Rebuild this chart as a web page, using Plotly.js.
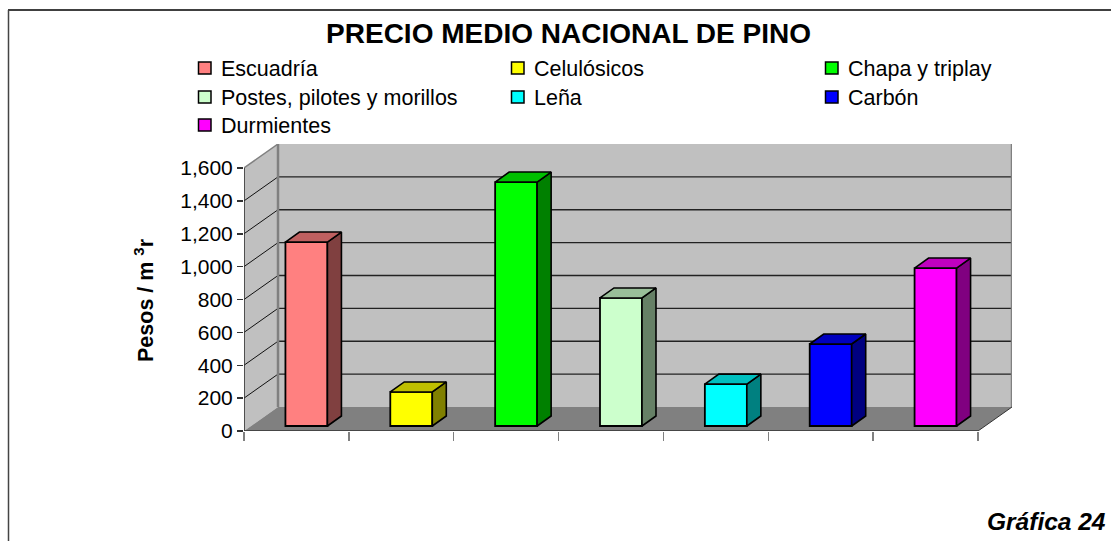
<!DOCTYPE html>
<html>
<head>
<meta charset="utf-8">
<script src="https://cdn.plot.ly/plotly-3.0.1.min.js"></script>
<style>html,body{margin:0;padding:0;background:#fff}#c{width:1111px;height:541px}</style>
</head>
<body>
<div id="c"></div>
<script>
const categories = ["Escuadría","Celulósicos","Chapa y triplay","Postes, pilotes y morillos","Leña","Carbón","Durmientes"];
const values = [1119,207,1484,779,255,499,961];
const frontColors = ["#FF8080","#FFFF00","#00FF00","#CCFFCC","#00FFFF","#0000FF","#FF00FF"];
const topColors   = ["#BF6060","#BFBF00","#00BF00","#99BF99","#00BFBF","#0000BF","#BF00BF"];
const sideColors  = ["#804040","#808000","#008000","#668066","#008080","#000080","#800080"];
const yTicks = [0,200,400,600,800,1000,1200,1400,1600];

// plot frame, in page pixels
const W=1111,H=541,L=244,R=1012,T=144,B=431;
const pxPerCat=(978-244)/7, pxPerUnit=(431-168)/1600;
const wallDX=34/pxPerCat, wallDY=24/pxPerUnit;        // depth of the chart box
const barDX=14/pxPerCat, barDY=10/pxPerUnit;          // depth of one bar
const barShift=0.5+10/pxPerCat, barBase=5/pxPerUnit, barW=42/pxPerCat;
const nCat=categories.length;
const xTop=yTicks[yTicks.length-1];

const px=x=>(x-L)/(R-L), py=y=>(B-y)/(B-T);
const poly=(xs,ys,fill,line,width)=>({type:'path',xref:'x',yref:'y',layer:'below',
  path:xs.map((v,i)=>(i?'L':'M')+v+','+ys[i]).join(' ')+' Z',fillcolor:fill,line:{color:line||fill,width:width||0}});
const seg=(x0,y0,x1,y1,c,w)=>({type:'line',xref:'x',yref:'y',layer:'below',x0,y0,x1,y1,line:{color:c,width:w}});

const shapes=[
  poly([wallDX,nCat+wallDX,nCat+wallDX,wallDX],[wallDY,wallDY,xTop+wallDY,xTop+wallDY],'#C0C0C0'),
  poly([0,wallDX,wallDX,0],[0,wallDY,xTop+wallDY,xTop],'#C0C0C0'),
  poly([0,nCat,nCat+wallDX,wallDX],[0,0,wallDY,wallDY],'#808080')
];
yTicks.slice(1,-1).forEach(t=>{
  shapes.push(seg(0,t,wallDX,t+wallDY,'#111',1));
  shapes.push(seg(wallDX,t+wallDY,nCat+wallDX,t+wallDY,'#222',1.3));
});
shapes.push(seg(wallDX,wallDY,wallDX,xTop+wallDY,'#808080',2.5));
shapes.push(seg(nCat+wallDX,wallDY,nCat+wallDX,xTop+wallDY,'#808080',2.5));
shapes.push(seg(0,xTop,wallDX,xTop+wallDY,'#808080',1.5));
shapes.push(seg(nCat,0,nCat+wallDX,wallDY,'#333',1));

// page frame
shapes.push({type:'line',xref:'paper',yref:'paper',x0:px(8),x1:px(W),y0:py(10),y1:py(10),line:{color:'#000',width:1.5}});
shapes.push({type:'line',xref:'paper',yref:'paper',x0:px(8.5),x1:px(8.5),y0:py(10),y1:py(H),line:{color:'#444',width:1.5}});

// legend, three columns
const legendX=[198,511,825], legendY=[68,97,125];
const annotations=[];
categories.forEach((c,i)=>{
  const cx=legendX[i%3], cy=legendY[Math.floor(i/3)];
  shapes.push({type:'rect',xref:'paper',yref:'paper',x0:px(cx+0.5),x1:px(cx+13),y0:py(cy-6),y1:py(cy+6),
    fillcolor:frontColors[i],line:{color:'#000',width:1.5}});
  annotations.push({xref:'paper',yref:'paper',x:px(cx+21),y:py(cy+0.5),xanchor:'left',yanchor:'middle',showarrow:false,
    text:c,font:{family:'Liberation Sans',size:21.5,color:'#000'}});
});
annotations.push({xref:'paper',yref:'paper',x:px(144),y:py(300),textangle:-90,xanchor:'center',yanchor:'middle',showarrow:false,
  text:'Pesos / m <sup>3</sup>r',font:{family:'Liberation Sans',size:21.5,color:'#000',weight:'bold'}});
annotations.push({xref:'paper',yref:'paper',x:px(1108),y:py(521),xanchor:'right',yanchor:'middle',showarrow:false,
  text:'<b><i>Gráfica 24</i></b>',font:{family:'Liberation Sans',size:24.5,color:'#000'}});

const xc=categories.map((_,i)=>i+barShift);
const traces=[];
categories.forEach((c,i)=>{
  const xl=xc[i]-barW/2, xr=xc[i]+barW/2, y0=barBase, y1=barBase+values[i];
  traces.push({type:'scatter',mode:'lines',x:[xr,xr+barDX,xr+barDX,xr,xr],y:[y0,y0+barDY,y1+barDY,y1,y0],
    fill:'toself',fillcolor:sideColors[i],line:{color:'#000',width:1.6},hoverinfo:'skip',showlegend:false});
  traces.push({type:'scatter',mode:'lines',x:[xl,xr,xr+barDX,xl+barDX,xl],y:[y1,y1,y1+barDY,y1+barDY,y1],
    fill:'toself',fillcolor:topColors[i],line:{color:'#000',width:1.6},hoverinfo:'skip',showlegend:false});
});
traces.unshift({type:'bar',name:'Precio',x:xc,y:values,base:barBase,width:barW,
  hovertext:categories,hoverinfo:'text+y',
  marker:{color:frontColors,line:{color:'#000',width:1.8}},showlegend:false});
traces.push({type:'scatter',mode:'lines',x:[0,0],y:[0,xTop],cliponaxis:false,line:{color:'#333',width:1.6},hoverinfo:'skip',showlegend:false});
traces.push({type:'scatter',mode:'lines',x:[0,nCat],y:[0,0],cliponaxis:false,line:{color:'#333',width:1.6},hoverinfo:'skip',showlegend:false});

const layout={
  width:W,height:H,paper_bgcolor:'#fff',plot_bgcolor:'rgba(0,0,0,0)',
  margin:{l:L,r:W-R,t:T,b:H-B,pad:0},showlegend:false,
  title:{text:'<b>PRECIO MEDIO NACIONAL DE PINO</b>',xref:'container',yref:'container',x:568.5/W,y:1-33/H,xanchor:'center',yanchor:'middle',
    font:{family:'Liberation Sans',size:28,color:'#000'}},
  xaxis:{range:[0,(R-L)/pxPerCat],tickvals:categories.map((_,i)=>i).concat([nCat]),showticklabels:false,
    ticks:'outside',ticklen:9,tickwidth:1.5,tickcolor:'#808080',showgrid:false,zeroline:false,showline:false},
  yaxis:{range:[0,(B-T)/pxPerUnit],tickvals:yTicks,tickformat:',d',ticks:'outside',ticklen:6,tickwidth:1.5,tickcolor:'#333',
    showgrid:false,zeroline:false,showline:false,tickfont:{family:'Liberation Sans',size:21,color:'#000'}},
  shapes,annotations
};
Plotly.newPlot('c',traces,layout,{displayModeBar:false,staticPlot:true});
</script>
</body>
</html>
